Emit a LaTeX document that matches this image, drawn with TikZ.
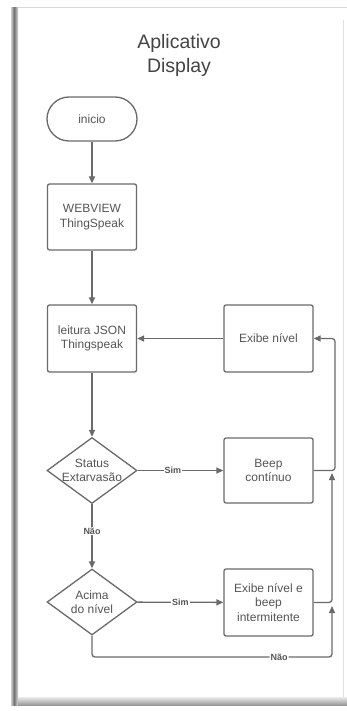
\documentclass[tikz,border=0pt]{standalone}
\usepackage{fontspec}
\setmainfont{Liberation Sans}
\usetikzlibrary{shapes.geometric,arrows.meta}
\definecolor{ln}{HTML}{6A6A6A}
\definecolor{txt}{HTML}{555555}
\definecolor{ttl}{HTML}{444444}
\begin{document}
\begin{tikzpicture}[x=1pt,y=-1pt,
  box/.style={draw=ln, line width=1.3pt, rounded corners=2pt, minimum width=89pt, minimum height=66pt, align=center, inner sep=0pt, text=txt, font=\fontsize{12}{14.5}\selectfont},
  term/.style={draw=ln, line width=1.3pt, rounded corners=22pt, minimum width=90pt, minimum height=44pt, inner sep=0pt, text=txt, font=\fontsize{12}{14.5}\selectfont},
  dec/.style={diamond, draw=ln, line width=1.3pt, minimum width=90pt, minimum height=66pt, inner sep=-10pt, align=center, text=txt, font=\fontsize{12}{14.5}\selectfont},
  arr/.style={draw=ln, line width=1.3pt, -{Triangle[length=7pt,width=6pt]}},
  lbl/.style={fill=white, inner sep=1pt, text=txt, font=\bfseries\fontsize{9}{10}\selectfont}
]
\useasboundingbox (0,0) rectangle (347,711);
% panel frame
\fill[white] (0,0) rectangle (347,711);
\draw[black!15, line width=1pt] (15,8) -- (347,8);
\draw[black!12, line width=0.8pt] (343,20) -- (343,697);
\shade[left color=black!20, right color=black!55] (11,8) rectangle (14,705);
\shade[left color=black!55, right color=black!15] (14,8) rectangle (18,705);
\shade[top color=black!8, bottom color=black!40] (18,697) rectangle (347,705);
% title
\node[align=center, text=ttl, font=\fontsize{19.5}{24}\selectfont] (title) at (179,55) {Aplicativo\\Display};
% nodes
\node[term] (inicio) at (92,119) {inicio};
\node[box] (web) at (92,217) {WEBVIEW\\ThingSpeak};
\node[box, minimum height=67pt] (leit) at (92,338.5) {leitura JSON\\Thingspeak};
\node[box, minimum height=67pt] (exibe) at (268.5,338.5) {Exibe nível};
\node[dec] (status) at (92,470.5) {Status\\Extarvasão};
\node[box, minimum height=65pt] (beep) at (268.5,470.5) {Beep\\contínuo};
\node[dec] (acima) at (92,602) {Acima\\do nível};
\node[box, minimum height=67pt] (exib2) at (268.5,602.5) {Exibe nível e\\beep\\intermitente};
% helper coordinates
\coordinate (c1) at (335,470.5);
\coordinate (c2) at (332,473);
\coordinate (c3) at (332,606);
\coordinate (c4) at (92,657);
% connectors
\draw[arr] (inicio) -- (web);
\draw[arr] (web) -- (leit);
\draw[arr] (exibe) -- (leit);
\draw[arr] (leit) -- (status);
\draw[arr] (status) -- node[lbl, pos=0.41] {Sim} (beep);
\draw[arr] (status) -- node[lbl, pos=0.42] {Não} (acima);
\draw[arr] (acima) -- node[lbl, pos=0.5] {Sim} (exib2);
\draw[arr, rounded corners=3pt] (beep.east) -- (c1) |- (exibe.east);
\draw[arr, rounded corners=3pt] (exib2.east) -| (c2);
\draw[arr, rounded corners=3pt] (acima.south) -- (c4) -| node[lbl, pos=0.39] {Não} (c3);
\end{tikzpicture}
\end{document}
